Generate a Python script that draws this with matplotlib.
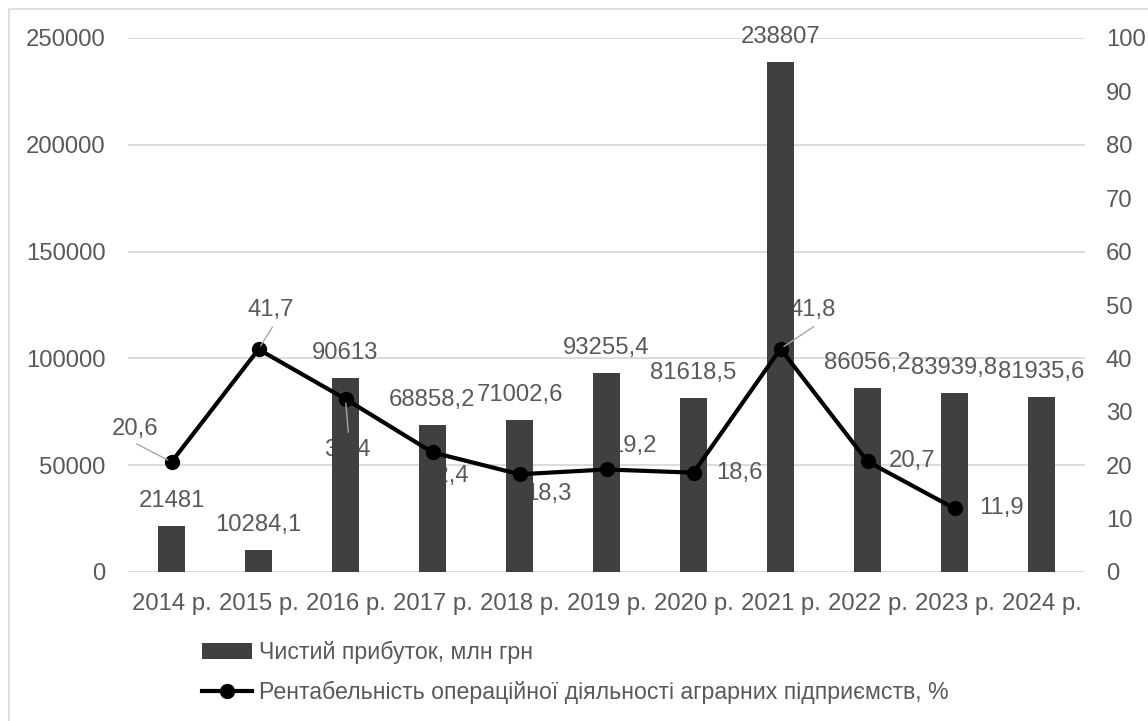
import matplotlib
matplotlib.use('Agg')
import matplotlib.pyplot as plt
from matplotlib.lines import Line2D
from matplotlib.patches import Patch, Rectangle

plt.rcParams['font.family'] = ['Liberation Sans', 'DejaVu Sans']

# дані
years = ['2014 р.', '2015 р.', '2016 р.', '2017 р.', '2018 р.', '2019 р.',
         '2020 р.', '2021 р.', '2022 р.', '2023 р.', '2024 р.']
profit = [21481, 10284.1, 90613, 68858.2, 71002.6, 93255.4,
          81618.5, 238807, 86056.2, 83939.8, 81935.6]
profitability = [20.6, 41.7, 32.4, 22.4, 18.3, 19.2, 18.6, 41.8, 20.7, 11.9]

bar_label = 'Чистий прибуток, млн грн'
line_label = 'Рентабельність операційної діяльності аграрних підприємств, %'

# зміщення підписів лінії (пункти)
line_offsets = [(-26, 24), (9, 28), (1, -37), (10, -17), (21, -14),
                (19, 17), (33, 0), (23, 28), (32, 0), (34, 0)]
# виносні лінії: індекс -> зміщення початку
leaders = {0: (-25, 13), 1: (10, 16), 2: (2, -24), 7: (24, 16)}

TXT = '#595959'
BAR = '#404040'
GRID = '#d9d9d9'
FS = 17.2


def fmt(v):
    s = ('%.1f' % v).rstrip('0').rstrip('.')
    return s.replace('.', ',')


fig = plt.figure(figsize=(11.48, 7.21), dpi=100)
ax1 = fig.add_axes([128 / 1148, 1 - 572 / 721, (1085 - 128) / 1148, (572 - 38) / 721])
ax2 = ax1.twinx()

x = list(range(len(years)))
ax1.bar(x, profit, width=0.31, color=BAR, zorder=2)
ax1.set_xlim(-0.5, len(years) - 0.5)
ax1.set_ylim(0, 250000)
ax1.set_yticks(range(0, 250001, 50000))
ax1.set_xticks(x)
ax1.set_xticklabels(years)
ax1.grid(axis='y', color=GRID, linewidth=1.3)
ax1.set_axisbelow(True)

for i, v in enumerate(profit):
    ax1.annotate(fmt(v), xy=(i, v), xytext=(0, 18), textcoords='offset points',
                 ha='center', va='center', fontsize=FS, color=TXT, zorder=3)

xl = x[:len(profitability)]
ax2.plot(xl, profitability, color='black', linewidth=3, marker='o',
         markersize=10, zorder=3)
ax2.set_ylim(0, 100)
ax2.set_yticks(range(0, 101, 10))

# підписи лінії під стовпчиками (як в Excel)
for i, v in enumerate(profitability):
    ax1.annotate(fmt(v), xy=(i, v), xycoords=ax2.transData,
                 xytext=line_offsets[i], textcoords='offset points',
                 ha='center', va='center', fontsize=FS, color=TXT, zorder=1)

for i, off in leaders.items():
    ax2.annotate('', xy=(i, profitability[i]), xytext=off, textcoords='offset points',
                 arrowprops=dict(arrowstyle='-', color='#a6a6a6', lw=1,
                                 shrinkA=0, shrinkB=3))

for ax in (ax1, ax2):
    for sp in ax.spines.values():
        sp.set_visible(False)
    ax.tick_params(length=0, labelsize=FS, labelcolor=TXT)
ax1.tick_params(axis='y', pad=16)
ax2.tick_params(axis='y', pad=15)
ax1.tick_params(axis='x', pad=15)

handles = [Patch(facecolor=BAR, edgecolor='none'),
           Line2D([], [], color='black', linewidth=3, marker='o', markersize=10)]
leg = fig.legend(handles, [bar_label, line_label], loc='center left',
                 bbox_to_anchor=(202 / 1148, 1 - 672.5 / 721), frameon=False,
                 fontsize=16.7, handlelength=2.15, handletextpad=0.3,
                 labelspacing=0.72, borderpad=0, borderaxespad=0)
for t in leg.get_texts():
    t.set_color(TXT)

# рамка діаграми
fig.patches.append(Rectangle((9 / 1148, -0.02), 1.1, 1 - 9 / 721 + 0.02,
                             transform=fig.transFigure, fill=False,
                             edgecolor=GRID, linewidth=1.2))

fig.savefig('out.png', dpi=100)
